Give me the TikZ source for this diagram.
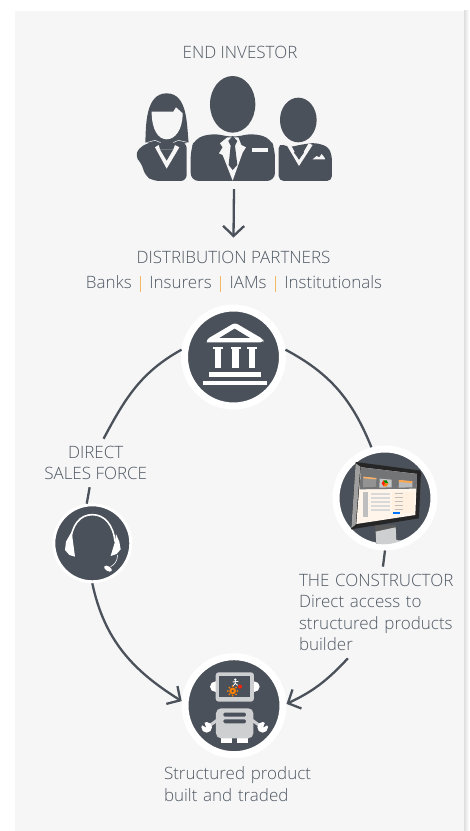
\documentclass[tikz,border=0pt]{standalone}
\usepackage{fontspec}
\setmainfont{Open Sans}[UprightFont=* Light]
\usepackage{xcolor}
\usetikzlibrary{arrows.meta}
\definecolor{panelgray}{HTML}{F6F6F6}
\definecolor{shadegray}{HTML}{DEDEDE}
\definecolor{slate}{HTML}{4B515B}
\definecolor{captiongray}{HTML}{4F5863}
\definecolor{barorange}{HTML}{F5B866}
\definecolor{robotgray}{HTML}{CDCFD1}
\newcommand{\orangebar}{\hspace{3.8pt}{\color{barorange}\rule[-3pt]{1.3pt}{16pt}}\hspace{3.8pt}}
\tikzset{
  zoomed/.style={x=0.3333pt,y=-0.3333pt},
  caption/.style={text=captiongray,font=\fontsize{17}{21.6}\selectfont,inner xsep=0pt,inner ysep=7pt},
  bigdisc/.style={circle,draw=white,fill=slate,line width=7pt,minimum size=98pt,inner sep=0pt},
  smalldisc/.style={circle,draw=white,fill=slate,line width=3pt,minimum size=77pt,inner sep=0pt},
  ring/.style={draw=slate,line width=2.3pt},
  ringarrow/.style={ring,-{Straight Barb[length=10pt,width=21pt]}},
}
\begin{document}
\begin{tikzpicture}[x=1pt,y=1pt]
      \useasboundingbox (0,0) rectangle (470,831);
      \shade[left color=shadegray,right color=white] (464,0) rectangle (469,820);
      \fill[panelgray] (15,0) rectangle (464,820);
      \node[caption] (investor) at (240,779) {END INVESTOR};
      \node[inner sep=0pt,minimum width=198pt,minimum height=100pt] (people) at (234,692) {};
      \node[caption,inner ysep=13pt] (partners) at (233.5,574) {DISTRIBUTION PARTNERS};
      \node[caption,inner ysep=1pt] (kinds) at (234,547) {Banks \orangebar{} Insurers \orangebar{} IAMs \orangebar{} Institutionals};
      \node[bigdisc] (bank) at (233.5,474) {};
      \node[bigdisc] (screen) at (385,333) {};
      \node[smalldisc] (headset) at (92.3,287.7) {};
      \node[bigdisc] (robot) at (234,125.3) {};
      \node[caption,align=center] (sales) at (95.7,368) {DIRECT\\SALES FORCE};
      \node[caption,align=left,text width=155pt] (builder) at (376.5,218.5) {THE CONSTRUCTOR\\Direct access to\\structured products\\builder};
      \node[caption,align=left,text width=160pt] (built) at (244,47) {Structured product\\built and traded};
      \begin{scope}[shift={(120,801)},zoomed]
        \fill[slate] (338,223) ellipse [x radius=68,y radius=85];
        \fill[slate,rounded corners=8pt] (212,453) -- (212,360) -- (225,325) -- (278,310) -- (338,322) -- (400,310) -- (452,325) -- (465,360) -- (465,453) -- cycle;
        \fill[panelgray] (322,322) -- (355,322) -- (364,345) -- (378,352) -- (368,368) -- (338,452) -- (308,375) -- (297,370) -- (308,352) -- (300,340) -- cycle;
        \fill[slate] (338,318) -- (352,333) -- (345,347) -- (352,405) -- (338,420) -- (326,405) -- (332,347) -- (325,333) -- cycle;
        \fill[panelgray] (397,353) rectangle (445,367);
        \fill[slate] (535,270) ellipse [x radius=55,y radius=67];
        \fill[slate,rounded corners=5pt] (476,453) -- (476,340) -- (510,352) -- (537,345) -- (585,338) -- (625,350) -- (636,378) -- (636,453) -- cycle;
        \fill[panelgray] (500,345) -- (537,408) -- (578,345) -- (566,340) -- (537,390) -- (510,340) -- cycle;
        \fill[slate] (537,350) -- (552,368) -- (537,388) -- (522,368) -- cycle;
        \fill[panelgray] (578,388) -- (590,378) -- (598,382) -- (605,372) -- (615,385) -- (615,388) -- cycle;
        \fill[slate] (76,338) .. controls (78,290) and (75,190) .. (140,190) .. controls (205,190) and (200,290) .. (206,338) -- (140,350) -- cycle;
        \fill[panelgray] (95,245) -- (160,245) -- (168,232) -- (188,250) .. controls (188,300) and (165,328) .. (140,328) .. controls (115,328) and (95,300) .. (95,245) -- cycle;
        \fill[slate,rounded corners=6pt] (44,378) -- (62,348) -- (105,333) -- (140,345) -- (175,333) -- (200,337) -- (200,453) -- (100,453) -- (75,437) -- (65,400) -- cycle;
        \draw[panelgray,line width=0.5pt] (76,339) -- (105,331) -- (122,338);
        \draw[panelgray,line width=0.5pt] (160,338) -- (175,331) -- (206,338);
        \fill[panelgray] (105,352) -- (140,416) -- (178,352) -- (165,345) -- (160,358) -- (120,358) -- (116,345) -- cycle;
        \fill[slate] (120,358) -- (160,358) -- (140,392) -- cycle;
      \end{scope}
      \begin{scope}[shift={(170,536)},zoomed]
        \fill[white] (110,142) [rounded corners=3pt] -- (110,133) -- (195,83) -- (280,133) -- (280,142) [sharp corners] -- cycle;
        \fill[slate] (148,129) -- (194,101) -- (240,129) -- cycle;
        \foreach \colx in {135,187,237} {
          \fill[white] ({\colx-5},155) rectangle ({\colx+25},163);
          \fill[white] (\colx,155) rectangle ({\colx+19},218);
        }
        \fill[white] (117,232) rectangle (273,245);
        \fill[white] (100,257) rectangle (290,270);
      \end{scope}
      \begin{scope}[shift={(335,381)},zoomed]
        \clip (145,145) circle (46pt);
        \fill[gray!70!black] (120,225) -- (182,225) -- (184,262) -- (124,282) -- cycle;
        \fill[robotgray] (122,245) -- (182,232) -- (184,270) -- (220,275) -- (125,300) -- cycle;
        \fill[black!85] (62,36) -- (258,62) -- (252,205) -- (48,238) -- cycle;
        \fill[gray!75] (62,40) -- (76,50) -- (62,224) -- (49,234) -- cycle;
        \fill[white!92!orange] (78,52) -- (246,72) -- (241,195) -- (64,222) -- cycle;
        \fill[gray!75!slate] (78,52) -- (246,72) -- (245,116) -- (74,118) -- cycle;
        \fill[gray!85] (85,80) -- (124,84) -- (123,110) -- (84,112) -- cycle;
        \fill[orange!60] (85,80) -- (124,84) -- (124,88) -- (85,85) -- cycle;
        \fill[gray!45] (134,86) -- (170,89) -- (170,112) -- (133,113) -- cycle;
        \fill[green!55!black] (150,100) -- (160,100) -- (155,91) -- (145,91) -- cycle;
        \fill[orange] (150,100) -- (160,100) -- (155,109) -- (146,109) -- cycle;
        \fill[red!70!orange] (150,100) -- (146,109) -- (140,100) -- (145,91) -- cycle;
        \fill[gray!55] (192,90) -- (232,94) -- (232,112) -- (191,113) -- cycle;
        \fill[orange!70] (192,90) -- (232,94) -- (232,99) -- (192,96) -- cycle;
        \fill[orange!12] (172,126) rectangle (238,190);
        \fill[gray!50] (85,125) rectangle (100,200);
        \foreach \rowy in {130,142,154,166,178} {
          \fill[gray!30] (108,\rowy) rectangle (165,{\rowy+4});
          \fill[gray!50] (180,\rowy) rectangle (205,{\rowy+2});
        }
        \fill[blue!55!cyan] (175,185) rectangle (195,191);
      \end{scope}
      \begin{scope}[shift={(30,401)},zoomed]
        \draw[white,line width=1.6pt] (122,335) .. controls (125,285) and (150,254) .. (187,254) .. controls (224,254) and (250,285) .. (255,335);
        \fill[white] (125,305) -- (135,380) -- (118,375) -- (105,360) -- (108,335) -- cycle;
        \fill[white] (255,335) -- (242,378) -- (260,372) -- (272,358) -- (268,335) -- (258,312) -- cycle;
        \draw[white,line width=0.6pt] (263,375) .. controls (262,395) and (252,405) .. (242,410);
        \fill[white,rotate around={-32:(234,416)}] (234,416) ellipse [x radius=13,y radius=7];
      \end{scope}
      \begin{scope}[shift={(150,831-640)},zoomed]
        \fill[white] (197,140) ellipse [x radius=17,y radius=16];
        \fill[white] (312,140) ellipse [x radius=17,y radius=16];
        \fill[robotgray,rounded corners=3pt] (197,97) rectangle (312,185);
        \fill[slate] (208,108) rectangle (300,172);
        \fill[orange] (248,153) circle (10);
        \foreach \toothangle in {0,45,...,315} {
          \fill[orange] (248,153) ++(\toothangle:14) circle (3);
        }
        \fill[slate] (248,153) circle (4);
        \fill[red!75!orange] (270,140) circle (6);
        \fill[white] (256,119) circle (4);
        \draw[white,line width=0.8pt] (256,122) -- (256,130) -- (249,138) (256,130) -- (263,136) (248,126) -- (265,124);
        \draw[robotgray,line width=3pt] (205,238) -- (172,262);
        \draw[robotgray,line width=3pt] (303,238) -- (336,262);
        \fill[white] (170,262) circle (16);
        \fill[white] (338,262) circle (16);
        \fill[slate] (150,252) -- (168,262) -- (160,240) -- cycle;
        \fill[slate] (358,252) -- (340,262) -- (348,240) -- cycle;
        \fill[white] (212,290) rectangle (245,310);
        \fill[white] (262,290) rectangle (295,310);
        \fill[robotgray,rounded corners=5pt] (198,295) -- (198,205) -- (310,205) -- (310,295) -- cycle;
        \fill[slate,rounded corners=1.5pt] (220,218) rectangle (288,230);
        \fill[slate,rounded corners=1.5pt] (220,238) rectangle (288,250);
      \end{scope}
      \draw[ring] (bank.172) to[out=209,in=62] (sales.72);
      \draw[ring] (sales.-104) -- (headset.98);
      \draw[ringarrow] (headset.south) to[out=-78,in=148] (robot.175);
      \draw[ring] (bank.8) to[out=-28,in=112] (screen.105);
      \draw[ring] (screen.south) -- (builder.82);
      \draw[ringarrow] (builder.-122) to[out=227,in=25] (robot.2);
      \draw[ringarrow] (people.south) -- (partners.north);
    \end{tikzpicture}
\end{document}
